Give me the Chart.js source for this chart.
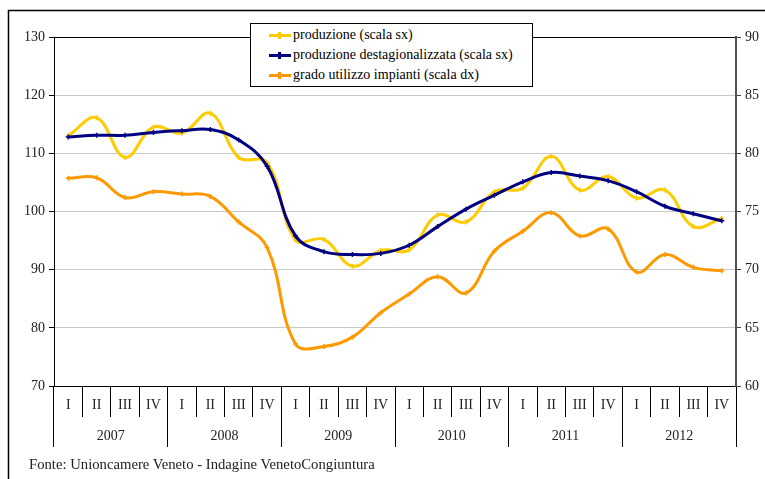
<!DOCTYPE html>
<html><head><meta charset="utf-8">
<script src="https://cdn.jsdelivr.net/npm/chart.js@4"></script>
<style>
html,body{margin:0;padding:0;background:#fff;}
#wrap{position:relative;width:765px;height:479px;overflow:hidden;}
#c{position:absolute;left:0;top:0;}
#legend{position:absolute;left:250px;top:23px;width:281px;height:62px;border:1px solid #000;background:#fff;font-family:"Liberation Serif",serif;font-size:14px;color:#000;}
.row{position:absolute;left:0;width:280px;height:20px;}
.sw{position:absolute;left:18px;top:9px;width:22px;height:3px;}
.mk{position:absolute;left:9px;top:-2px;width:3px;height:7px;}
.lbl{position:absolute;left:42px;top:1px;white-space:nowrap;line-height:18px;}
#src{position:absolute;left:29px;top:456px;font-family:"Liberation Serif",serif;font-size:14.7px;color:#222;white-space:nowrap;}
</style></head>
<body>
<div id="wrap">
<canvas id="c" width="765" height="479"></canvas>
<div id="legend"></div>
<div id="src">Fonte: Unioncamere Veneto - Indagine VenetoCongiuntura</div>
</div>
<script>
const quarters = ['I','II','III','IV','I','II','III','IV','I','II','III','IV','I','II','III','IV','I','II','III','IV','I','II','III','IV'];
const years = ['2007','2008','2009','2010','2011','2012'];
const seriesNames = ['produzione (scala sx)','produzione destagionalizzata (scala sx)','grado utilizzo impianti (scala dx)'];
const produzione = [113.0, 116.1, 109.3, 114.5, 113.5, 116.9, 109.3, 108.4, 95.1, 95.2, 90.6, 93.3, 93.4, 99.4, 98.2, 103.4, 104.0, 109.5, 103.7, 106.0, 102.3, 103.7, 97.4, 98.8];
const destagionalizzata = [112.8, 113.1, 113.1, 113.6, 113.9, 114.1, 112.3, 107.8, 95.8, 93.1, 92.6, 92.8, 94.2, 97.4, 100.4, 102.8, 105.1, 106.7, 106.1, 105.3, 103.4, 100.9, 99.6, 98.4];
const gradoUtilizzo = [77.85, 77.9, 76.2, 76.7, 76.5, 76.3, 74.1, 71.9, 63.6, 63.4, 64.2, 66.3, 67.9, 69.4, 68.0, 71.6, 73.3, 74.9, 72.9, 73.5, 69.8, 71.3, 70.2, 69.9];
const colors = ['#FFCC00','#000080','#FF9900'];

const font = {family:'"Liberation Serif", serif', size:14};

// HTML legend
const lg = document.getElementById('legend');
seriesNames.forEach((n,i)=>{
  const r = document.createElement('div');
  r.className='row'; r.style.top=(1+i*20)+'px';
  r.innerHTML = '<div class="sw" style="background:'+colors[i]+'"><div class="mk" style="background:'+colors[i]+'"></div></div><div class="lbl">'+n+'</div>';
  lg.appendChild(r);
});

const framePlugin = {
  id:'frame',
  beforeDraw(chart){
    const c = chart.ctx;
    c.save();
    c.strokeStyle='#000'; c.lineWidth=1.5;
    c.beginPath(); c.moveTo(8.5,479); c.lineTo(8.5,10.5); c.lineTo(765,10.5); c.stroke();
    c.restore();
  }
};

function ds(label, data, color, axis, order){
  return {label, data, yAxisID:axis, xAxisID:'x', borderColor:color, backgroundColor:color,
    borderWidth:3, tension:0.4, fill:false, order,
    pointStyle:'cross', pointRadius:2.5, pointBorderWidth:1.5, pointBorderColor:color};
}

new Chart(document.getElementById('c'), {
  type:'line',
  data:{
    labels: quarters,
    datasets:[
      ds(seriesNames[0], produzione, colors[0], 'y', 1),
      ds(seriesNames[1], destagionalizzata, colors[1], 'y', 0),
      ds(seriesNames[2], gradoUtilizzo, colors[2], 'y2', 2)
    ]
  },
  options:{
    responsive:false, animation:false,
    layout:{padding:{left:0,right:0,top:37,bottom:32}},
    plugins:{legend:{display:false}, tooltip:{enabled:false}},
    scales:{
      x:{type:'category', position:'bottom', offset:true,
        grid:{offset:true, drawOnChartArea:false, drawTicks:true, tickLength:31, tickColor:'#000', lineWidth:1},
        border:{color:'#000', width:1},
        ticks:{font, color:'#222', padding:-20, maxRotation:0, autoSkip:false},
        afterFit:s=>{s.height=31;}},
      x2:{type:'category', labels:years, position:'bottom', offset:true,
        grid:{offset:true, drawOnChartArea:false, drawTicks:true, tickLength:30, tickColor:'#000', lineWidth:1},
        border:{display:false},
        ticks:{font, color:'#222', padding:-19, maxRotation:0, autoSkip:false},
        afterFit:s=>{s.height=30;}},
      y:{position:'left', min:70, max:130,
        ticks:{stepSize:10, font, color:'#222', padding:4},
        grid:{color:ctx=> (ctx.tick && ctx.tick.value===130) ? '#000' : '#c8c8c8', tickColor:'#000', tickLength:5, lineWidth:1},
        border:{color:'#000', width:1},
        afterFit:s=>{s.width=54;}},
      y2:{position:'right', min:60, max:90,
        ticks:{stepSize:5, font, color:'#222', padding:4},
        grid:{drawOnChartArea:false, tickColor:'#404040', tickLength:5},
        border:{color:'#505050', width:2},
        afterFit:s=>{s.width=29;}}
    }
  },
  plugins:[framePlugin]
});
</script>
</body></html>
